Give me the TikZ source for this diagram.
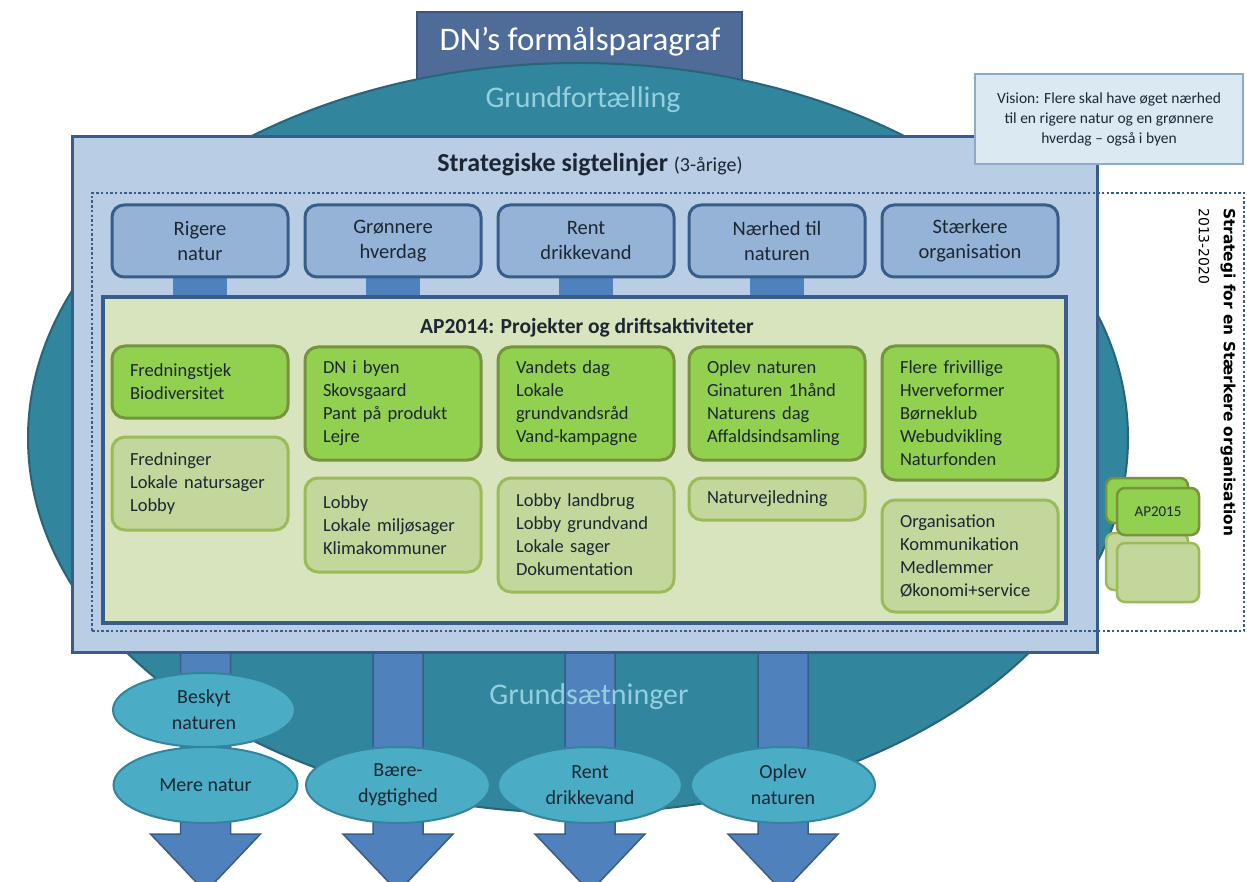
\documentclass[tikz,border=0pt]{standalone}
\usepackage{fontspec}
\setmainfont{Carlito}
\newfontfamily\vertfont{DejaVu Sans}
\usetikzlibrary{shapes.geometric,calc}
\pgfdeclarelayer{back}
\pgfdeclarelayer{arrowlayer}
\pgfdeclarelayer{panel}
\pgfdeclarelayer{stemlayer}
\pgfsetlayers{back,arrowlayer,panel,stemlayer,main}
\definecolor{dnblue}{HTML}{4F6B98}
\definecolor{dnborder}{HTML}{3B5680}
\definecolor{bigteal}{HTML}{31859C}
\definecolor{tealborder}{HTML}{2A6478}
\definecolor{gtext}{HTML}{93CFDE}
\definecolor{panelfill}{HTML}{B9CDE5}
\definecolor{navy}{HTML}{385D8A}
\definecolor{topfill}{HTML}{95B3D7}
\definecolor{stemblue}{HTML}{4F81BD}
\definecolor{apfill}{HTML}{D7E4BD}
\definecolor{dgfill}{HTML}{92D050}
\definecolor{dgborder}{HTML}{77933C}
\definecolor{lgfill}{HTML}{C3D69B}
\definecolor{lgborder}{HTML}{9BBB59}
\definecolor{ovalfill}{HTML}{4BACC6}
\definecolor{ovalborder}{HTML}{31859C}
\definecolor{visfill}{HTML}{DBE9F3}
\definecolor{visborder}{HTML}{8FAAC6}
\definecolor{txt}{HTML}{1C2733}
\begin{document}
\begin{tikzpicture}[x=1pt,y=-1pt,
  dnbox/.style={draw=dnborder, fill=dnblue, line width=1.5pt, minimum width=325pt, minimum height=78pt, inner sep=0pt},
  dntext/.style={text=white, font=\fontsize{33}{38}\selectfont, inner sep=0pt},
  bigell/.style={ellipse, draw=tealborder, fill=bigteal, line width=2pt, minimum width=1100pt, minimum height=750pt, inner sep=0pt},
  grund/.style={text=gtext, font=\fontsize{30}{34}\selectfont, inner sep=0pt},
  panelbox/.style={draw=navy, fill=panelfill, line width=3pt, minimum width=1025pt, minimum height=515pt, inner sep=0pt},
  dotbox/.style={draw=navy, line width=2.5pt, dash pattern=on 2.5pt off 2.2pt, minimum width=1152pt, minimum height=438pt, inner sep=0pt},
  topbox/.style={draw=navy, line width=3pt, fill=topfill, rounded corners=12pt, minimum width=176pt, minimum height=72pt, align=center, text=txt, font=\fontsize{20.5}{25}\selectfont, inner sep=0pt},
  apbox/.style={draw=navy, line width=3.5pt, fill=apfill, minimum width=963pt, minimum height=326pt, inner sep=0pt},
  actbox/.style={rounded corners=13pt, line width=3pt, text width=140pt, inner xsep=18pt, inner ysep=0pt, align=left, text=txt, font=\fontsize{18.5}{23}\selectfont},
  darkbox/.style={actbox, draw=dgborder, fill=dgfill},
  lightbox/.style={actbox, draw=lgborder, fill=lgfill},
  smallbox/.style={rounded corners=8pt, line width=2.5pt, minimum width=82pt, inner sep=0pt, text=txt, font=\fontsize{15}{18}\selectfont},
  oval/.style={ellipse, draw=ovalborder, line width=2pt, fill=ovalfill, inner sep=0pt, minimum width=184pt, minimum height=76pt, align=center, text=txt, font=\fontsize{20}{26}\selectfont},
  arrowshape/.style={fill=stemblue, draw=navy, line width=1.5pt},
  visbox/.style={draw=visborder, fill=visfill, line width=2pt, minimum width=268pt, minimum height=90pt, align=center, text=txt, font=\fontsize{15.5}{20}\selectfont, inner sep=0pt}
]
\useasboundingbox (0,0) rectangle (1247,882);
\begin{pgfonlayer}{back}
\fill[white] (0,0) rectangle (1247,882);
\node[dnbox] (dn) at (579.5,51) {};
\node[bigell] (bigell) at (578,438) {};
\end{pgfonlayer}
\begin{pgfonlayer}{panel}
\node[panelbox] (main) at (584.5,394.5) {};
\node[dotbox] (strat) at (668,412) {};
\end{pgfonlayer}
% texts on big shapes
\node[dntext] (dntitle) at (580,42) {DN’s formålsparagraf};
\node[grund] (gf) at (583,100) {Grundfortælling};
\node[grund] (gs) at (589,697) {Grundsætninger};
\node[text=txt, inner sep=0pt, font=\fontsize{26}{30}\selectfont] (sigte) at (590,165) {\textbf{Strategiske sigtelinjer} {\fontsize{20}{24}\selectfont(3-årige)}};
% top boxes
\node[topbox] (t1) at (200,241) {Rigere\\natur};
\node[topbox] (t2) at (393,241) {Grønnere\\hverdag};
\node[topbox] (t3) at (586,241) {Rent\\drikkevand};
\node[topbox] (t4) at (777,241) {Nærhed til\\naturen};
\node[topbox] (t5) at (970,241) {Stærkere\\organisation};
% AP2014
\node[apbox] (ap) at (584.5,460) {};
\node[text=txt, inner sep=0pt, font=\fontsize{21.5}{25}\selectfont\bfseries] (aptitle) at (587,328) {AP2014: Projekter og driftsaktiviteter};
\node[darkbox, minimum height=72pt] (g1) at (200,382) {Fredningstjek\\Biodiversitet};
\node[darkbox, minimum height=113pt] (g2) at (393,403.5) {DN i byen\\Skovsgaard\\Pant på produkt\\Lejre};
\node[darkbox, minimum height=113pt] (g3) at (586,403.5) {Vandets dag\\Lokale\\grundvandsråd\\Vand-kampagne};
\node[darkbox, minimum height=113pt] (g4) at (777,403.5) {Oplev naturen\\Ginaturen 1hånd\\Naturens dag\\Affaldsindsamling};
\node[darkbox, minimum height=134pt] (g5) at (970,413) {Flere frivillige\\Hverveformer\\Børneklub\\Webudvikling\\Naturfonden};
\node[lightbox, minimum height=93pt] (l1) at (200,483.5) {Fredninger\\Lokale natursager\\Lobby};
\node[lightbox, minimum height=94pt] (l2) at (393,525) {Lobby\\Lokale miljøsager\\Klimakommuner};
\node[lightbox, minimum height=114pt] (l3) at (586,535) {Lobby landbrug\\Lobby grundvand\\Lokale sager\\Dokumentation};
\node[lightbox, minimum height=42pt] (l4) at (777,499) {Naturvejledning};
\node[lightbox, minimum height=112pt] (l5) at (970,556) {Organisation\\Kommunikation\\Medlemmer\\Økonomi+service};
% vision
\node[visbox] (vision) at (1109,119) {Vision: Flere skal have øget nærhed\\til en rigere natur og en grønnere\\hverdag -- også i byen};
% vertical texts
\node[rotate=-90, anchor=west, inner sep=0pt, text=black, font=\vertfont\bfseries\fontsize{15.4}{18}\selectfont] (strategi) at (1228,208) {Strategi for en Stærkere organisation};
\node[rotate=-90, anchor=west, inner sep=0pt, text=black, font=\vertfont\fontsize{14}{17}\selectfont] (years) at (1204,208) {2013-2020};
% AP2015 stack
\node[smallbox, draw=dgborder, fill=dgfill, minimum height=45pt] (ap15b) at (1147,500.5) {};
\node[smallbox, draw=lgborder, fill=lgfill, minimum height=57pt] (ap15lb) at (1147,561.5) {};
\node[smallbox, draw=dgborder, fill=dgfill, minimum height=47pt] (ap15) at (1158,511.5) {AP2015};
\node[smallbox, draw=lgborder, fill=lgfill, minimum height=59pt] (ap15lf) at (1158,572.5) {};
% ovals
\node[oval, minimum width=182pt, minimum height=74pt] (o0) at (204,710) {Beskyt\\naturen};
\node[oval] (o1) at (205.5,785) {Mere natur};
\node[oval] (o2) at (398,785) {Bære-\\dygtighed};
\node[oval] (o3) at (590,785) {Rent\\drikkevand};
\node[oval] (o4) at (783,785) {Oplev\\naturen};
% stems from top boxes to AP2014
\begin{pgfonlayer}{stemlayer}
\foreach \i in {1,...,4}{
  \fill[stemblue] ($(t\i.south)+(-27,-4)$) rectangle ($(t\i.south |- ap.north)+(27,4)$);
}
\end{pgfonlayer}
% arrows from main panel down through the ovals
\begin{pgfonlayer}{arrowlayer}
\foreach \i in {1,...,4}{
  \draw[arrowshape] ($(o\i |- main.south)+(-25,-6)$) -- ($(o\i |- main.south)+(25,-6)$)
    -- ($(o\i.south)+(25,10)$) -- ($(o\i.south)+(55,10)$) -- ($(o\i.south)+(0,68)$)
    -- ($(o\i.south)+(-55,10)$) -- ($(o\i.south)+(-25,10)$) -- cycle;
}
\end{pgfonlayer}
\end{tikzpicture}
\end{document}
